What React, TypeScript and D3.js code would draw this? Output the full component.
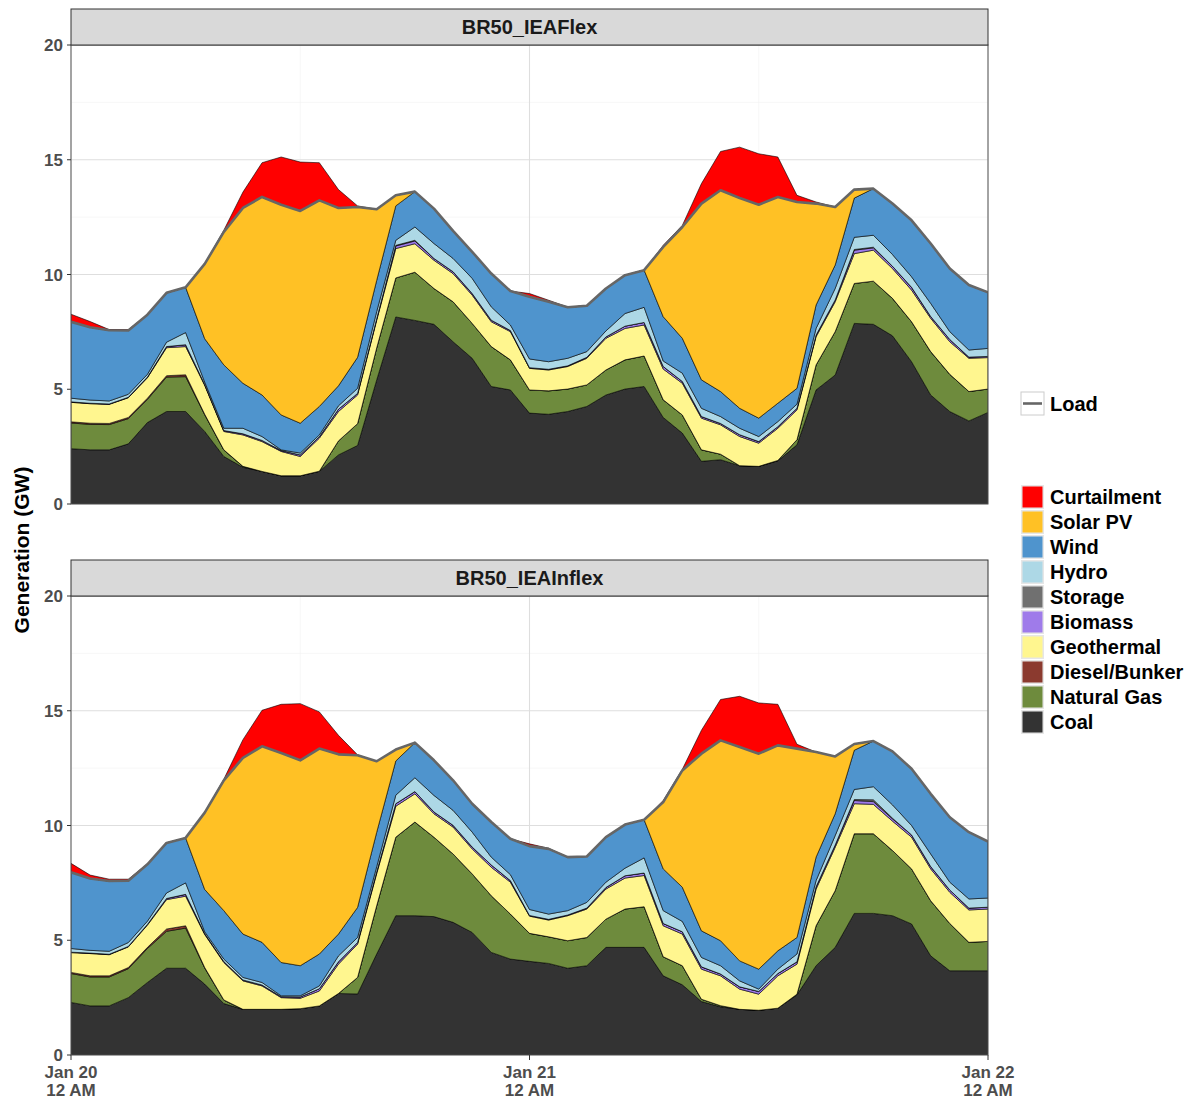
import React from 'react';
import * as d3 from 'd3';

// ---------- DATA (GW, hourly from Jan 20 12 AM to Jan 22 12 AM) ----------
const hourIndex = d3.range(49);
const yTicks = [0, 5, 10, 15, 20];
const yMinor = [2.5, 7.5, 12.5, 17.5];
const panelTitles = ['BR50_IEAFlex', 'BR50_IEAInflex'];
const seriesNames = ['Coal', 'Natural Gas', 'Diesel/Bunker', 'Geothermal', 'Biomass', 'Storage', 'Hydro', 'Wind', 'Solar PV', 'Curtailment'];
const seriesColors = ['#333333', '#6E8B3D', '#8B3A2F', '#FFF68F', '#9F7BEA', '#707070', '#ADD8E6', '#4F94CD', '#FFC125', '#FF0000'];

const z9 = (n: number) => Array(n).fill(0);

// Panel 1: BR50_IEAFlex
const flexCoal = [2.41, 2.36, 2.36, 2.62, 3.55, 4.03, 4.03, 3.16, 2.07, 1.60, 1.42, 1.23, 1.23, 1.42, 2.14, 2.55, 5.40, 8.15, 8.00, 7.83, 7.07, 6.35, 5.12, 4.97, 3.96, 3.91, 4.03, 4.25, 4.75, 5.01, 5.12, 3.77, 3.09, 1.86, 1.93, 1.67, 1.64, 1.88, 2.58, 4.97, 5.62, 7.87, 7.83, 7.33, 6.20, 4.75, 4.03, 3.62, 3.99];
const flexGas = [1.12, 1.11, 1.10, 1.10, 1.01, 1.50, 1.52, 0.73, 0.28, 0.04, 0, 0, 0, 0.01, 0.61, 0.95, 1.40, 1.70, 2.10, 1.56, 1.74, 1.52, 1.74, 1.31, 1.01, 1.02, 0.98, 0.94, 1.09, 1.27, 1.33, 0.77, 0.79, 0.50, 0.24, 0, 0, 0.02, 0.22, 1.09, 1.89, 1.74, 1.88, 1.63, 1.74, 1.89, 1.62, 1.28, 1.02];
const flexDiesel = [0.05, 0.05, 0.05, 0.05, 0.05, 0.06, 0.08, 0.02, 0.01, ...z9(40)];
const flexGeo = [0.85, 0.85, 0.83, 0.86, 0.89, 1.22, 1.23, 1.26, 0.80, 1.37, 1.30, 1.06, 0.84, 1.44, 1.28, 1.25, 1.20, 1.28, 1.24, 1.23, 1.23, 1.23, 1.08, 1.23, 0.94, 0.91, 0.98, 1.16, 1.38, 1.37, 1.35, 1.34, 1.38, 1.38, 1.28, 1.27, 1.01, 1.40, 1.30, 1.23, 1.30, 1.30, 1.35, 1.30, 1.38, 1.45, 1.42, 1.45, 1.37];
const flexBiomass = [0.02, 0.02, 0.02, 0.02, 0.03, 0.05, 0.08, 0.04, 0.04, 0.05, 0.05, 0.04, 0.07, 0.06, 0.10, 0.07, 0.07, 0.11, 0.12, 0.08, 0.08, 0.07, 0.07, 0.05, 0.03, 0.03, 0.03, 0.04, 0.06, 0.10, 0.11, 0.11, 0.08, 0.07, 0.06, 0.08, 0.07, 0.07, 0.07, 0.07, 0.08, 0.15, 0.10, 0.10, 0.12, 0.08, 0.10, 0.05, 0.05];
const flexStorage = [...z9(17), 0.03, 0.03, ...z9(22), 0.03, 0.03, ...z9(6)];
const flexHydro = [0.16, 0.14, 0.13, 0.13, 0.12, 0.19, 0.53, 0.10, 0.10, 0.24, 0.17, 0.03, 0.08, 0.08, 0.15, 0.22, 0.31, 0.22, 0.58, 0.65, 0.58, 0.66, 0.58, 0.24, 0.38, 0.33, 0.33, 0.25, 0.26, 0.55, 0.66, 0.24, 0.36, 0.36, 0.30, 0.28, 0.22, 0.22, 0.18, 0.29, 0.50, 0.53, 0.52, 0.51, 0.46, 0.57, 0.34, 0.31, 0.35];
const flexWind = [3.33, 3.17, 3.08, 2.78, 2.60, 2.15, 1.97, 1.89, 2.76, 1.96, 1.81, 1.52, 1.30, 1.24, 0.87, 1.35, 1.36, 1.50, 1.54, 1.52, 1.20, 1.16, 1.45, 1.48, 2.71, 2.61, 2.22, 2.00, 1.85, 1.67, 1.62, 1.93, 1.52, 1.24, 1.09, 0.87, 0.80, 0.80, 0.69, 1.02, 1.02, 1.71, 2.03, 2.22, 2.46, 2.61, 2.75, 2.83, 2.44];
const flexSolar = [0, 0, 0, 0, 0, 0, 0, 3.26, 5.80, 7.64, 8.63, 9.16, 9.25, 8.98, 7.75, 6.55, 3.10, 0.46, ...z9(13), 3.04, 4.85, 7.68, 8.77, 9.16, 9.30, 8.99, 8.12, 4.42, 2.53, 0.37, ...z9(7)];
const flexCurtail = [0.33, 0.25, 0.03, 0.04, 0, 0, 0, 0, 0.07, 0.69, 1.49, 2.08, 2.13, 1.64, 0.80, 0.05, ...z9(8), 0.14, 0.07, 0.01, 0, 0, 0, 0, 0.07, 0.07, 0.87, 1.69, 2.22, 2.22, 1.74, 0.29, 0.07, ...z9(9)];

// Panel 2: BR50_IEAInflex
const inflexCoal = [2.29, 2.14, 2.14, 2.50, 3.16, 3.78, 3.78, 3.09, 2.24, 1.99, 1.99, 1.99, 2.02, 2.14, 2.68, 2.66, 4.40, 6.07, 6.07, 6.03, 5.78, 5.34, 4.47, 4.18, 4.08, 3.99, 3.78, 3.89, 4.69, 4.69, 4.69, 3.45, 3.06, 2.33, 2.10, 1.99, 1.95, 2.04, 2.62, 3.89, 4.69, 6.17, 6.17, 6.07, 5.71, 4.32, 3.67, 3.67, 3.67];
const inflexGas = [1.26, 1.26, 1.26, 1.26, 1.48, 1.61, 1.75, 0.70, 0.15, 0, 0, 0, 0, 0, 0, 0.72, 2.10, 3.42, 4.08, 3.46, 2.98, 2.55, 2.47, 1.96, 1.22, 1.16, 1.20, 1.23, 1.23, 1.67, 1.77, 0.83, 0.83, 0.10, 0.05, 0, 0, 0, 0.03, 1.74, 2.47, 3.47, 3.47, 2.84, 2.40, 2.40, 2.06, 1.24, 1.28];
const inflexDiesel = [0.05, 0.05, 0.05, 0.05, 0.05, 0.10, 0.10, 0.02, 0.01, ...z9(40)];
const inflexGeo = [0.86, 0.97, 0.92, 0.90, 0.97, 1.28, 1.29, 1.44, 1.63, 1.24, 1.02, 0.51, 0.45, 0.65, 1.28, 1.45, 1.40, 1.35, 1.23, 1.02, 1.17, 1.09, 1.24, 1.39, 0.75, 0.73, 1.09, 1.24, 1.31, 1.35, 1.36, 1.35, 1.38, 1.31, 1.30, 0.88, 0.70, 1.41, 1.31, 1.60, 1.89, 1.31, 1.28, 1.28, 1.38, 1.39, 1.36, 1.41, 1.41];
const inflexBiomass = [0.02, 0.02, 0.02, 0.02, 0.03, 0.05, 0.08, 0.04, 0.04, 0.04, 0.04, 0.04, 0.06, 0.10, 0.10, 0.07, 0.08, 0.11, 0.10, 0.08, 0.08, 0.08, 0.10, 0.07, 0.03, 0.03, 0.03, 0.04, 0.07, 0.10, 0.11, 0.10, 0.10, 0.10, 0.08, 0.10, 0.12, 0.10, 0.10, 0.10, 0.10, 0.14, 0.12, 0.10, 0.10, 0.10, 0.10, 0.08, 0.08];
const inflexStorage = [...z9(41), 0.04, 0.08, 0.03, ...z9(5)];
const inflexHydro = [0.16, 0.12, 0.13, 0.17, 0.14, 0.24, 0.50, 0.08, 0.11, 0.11, 0.11, 0.04, 0.05, 0.12, 0.26, 0.22, 0.22, 0.37, 0.60, 0.72, 0.65, 0.65, 0.34, 0.26, 0.26, 0.23, 0.19, 0.25, 0.23, 0.33, 0.66, 0.56, 0.45, 0.41, 0.36, 0.26, 0.10, 0.19, 0.34, 0.27, 0.41, 0.44, 0.57, 0.58, 0.41, 0.55, 0.34, 0.40, 0.40];
const inflexWind = [3.32, 3.13, 3.06, 2.69, 2.48, 2.18, 1.96, 1.84, 2.11, 1.89, 1.75, 1.45, 1.31, 1.39, 0.95, 1.31, 1.50, 1.49, 1.53, 1.53, 1.31, 1.24, 1.53, 1.56, 2.76, 2.84, 2.33, 2.00, 1.96, 1.90, 1.66, 1.82, 1.49, 1.16, 1.09, 0.87, 0.87, 0.80, 0.72, 1.02, 0.95, 1.71, 1.99, 2.33, 2.47, 2.62, 2.83, 2.91, 2.46];
const inflexSolar = [0, 0, 0, 0, 0, 0, 0, 3.35, 5.68, 7.68, 8.54, 9.13, 8.95, 8.95, 7.83, 6.63, 3.10, 0.50, ...z9(13), 2.91, 5.09, 7.72, 8.73, 9.32, 9.39, 8.95, 8.23, 4.58, 2.50, 0.27, ...z9(7)];
const inflexCurtail = [0.39, 0.15, 0.08, 0.07, 0.02, 0, 0, 0, 0.05, 0.79, 1.57, 2.12, 2.47, 1.60, 0.83, 0.02, ...z9(8), 0.10, 0.03, 0, 0, 0, 0, 0, 0.07, 0.05, 1.02, 1.78, 2.21, 2.21, 1.79, 0.19, ...z9(10)];

const panelSeries = [
  [flexCoal, flexGas, flexDiesel, flexGeo, flexBiomass, flexStorage, flexHydro, flexWind, flexSolar, flexCurtail],
  [inflexCoal, inflexGas, inflexDiesel, inflexGeo, inflexBiomass, inflexStorage, inflexHydro, inflexWind, inflexSolar, inflexCurtail],
];

// ---------- LAYOUT ----------
const W = 1190, H = 1099;
const plotLeft = 71, plotRight = 988;
const panelTops = [45, 596];
const panelH = 459;
const stripH = 36;
const FONT = '"Liberation Sans", Arial, Helvetica, sans-serif';

const t0 = new Date(2030, 0, 20, 0);
const tEnd = new Date(2030, 0, 22, 0);
const times = hourIndex.map((h) => new Date(2030, 0, 20, h));
const x = d3.scaleTime().domain([t0, tEnd]).range([plotLeft, plotRight]);
const xMajor = [new Date(2030, 0, 20), new Date(2030, 0, 21), new Date(2030, 0, 22)];
const xMinor = [new Date(2030, 0, 20, 12), new Date(2030, 0, 21, 12)];
const fmtDay = d3.timeFormat('%b %d');
const fmtHour = d3.timeFormat('%-I %p');

type Row = { t: Date; [k: string]: any };

function Panel({ idx }: { idx: number }) {
  const top = panelTops[idx];
  const y = d3.scaleLinear().domain([0, 20]).range([top + panelH, top]);
  const series = panelSeries[idx];
  const rows: Row[] = times.map((t, i) => {
    const r: Row = { t };
    seriesNames.forEach((k, j) => (r[k] = series[j][i]));
    return r;
  });
  const stacked = d3.stack<Row>().keys(seriesNames)(rows);
  const area = d3
    .area<any>()
    .x((d) => x(d.data.t))
    .y0((d) => y(d[0]))
    .y1((d) => y(d[1]));
  const loadLine = d3
    .line<Row>()
    .x((d) => x(d.t))
    .y((d) => y(d3.sum(seriesNames.slice(0, 9), (k) => d[k])));
  const clipId = `clip${idx}`;
  return (
    <g>
      <defs>
        <clipPath id={clipId}>
          <rect x={plotLeft} y={top} width={plotRight - plotLeft} height={panelH} />
        </clipPath>
      </defs>
      <rect x={plotLeft} y={top} width={plotRight - plotLeft} height={panelH} fill="#fff" />
      {yMinor.map((v) => (
        <line key={'ym' + v} x1={plotLeft} x2={plotRight} y1={y(v)} y2={y(v)} stroke="#F2F2F2" strokeWidth={0.6} />
      ))}
      {xMinor.map((d, i) => (
        <line key={'xm' + i} x1={x(d)} x2={x(d)} y1={top} y2={top + panelH} stroke="#F2F2F2" strokeWidth={0.6} />
      ))}
      {yTicks.map((v) => (
        <line key={'yM' + v} x1={plotLeft} x2={plotRight} y1={y(v)} y2={y(v)} stroke="#DEDEDE" strokeWidth={1.1} />
      ))}
      {xMajor.map((d, i) => (
        <line key={'xM' + i} x1={x(d)} x2={x(d)} y1={top} y2={top + panelH} stroke="#DEDEDE" strokeWidth={1.1} />
      ))}
      <g clipPath={`url(#${clipId})`}>
        {stacked.map((s, j) => (
          <path key={s.key} d={area(s as any) || ''} fill={seriesColors[j]} stroke="#000" strokeWidth={0.6} strokeLinejoin="round" />
        ))}
        <path d={loadLine(rows) || ''} fill="none" stroke="#666666" strokeWidth={2.6} strokeLinejoin="round" />
      </g>
      <rect x={plotLeft} y={top} width={plotRight - plotLeft} height={panelH} fill="none" stroke="#5a5a5a" strokeWidth={1} />
      {/* strip */}
      <rect x={plotLeft} y={top - stripH} width={plotRight - plotLeft} height={stripH} fill="#D9D9D9" stroke="#333" strokeWidth={1} />
      <text x={(plotLeft + plotRight) / 2} y={top - stripH / 2 + 7} textAnchor="middle" fontFamily={FONT} fontWeight="bold" fontSize={20} fill="#1A1A1A">
        {panelTitles[idx]}
      </text>
      {/* y axis */}
      {yTicks.map((v) => (
        <g key={'yt' + v}>
          <line x1={plotLeft - 4} x2={plotLeft} y1={y(v)} y2={y(v)} stroke="#333" strokeWidth={1} />
          <text x={plotLeft - 8} y={y(v) + 6} textAnchor="end" fontFamily={FONT} fontWeight="bold" fontSize={17} fill="#4D4D4D">
            {v}
          </text>
        </g>
      ))}
    </g>
  );
}

function Legend() {
  const keyX = 1021, keyS = 23, textX = 1050;
  const order = seriesNames.map((n, i) => ({ n, c: seriesColors[i] })).reverse();
  return (
    <g fontFamily={FONT} fontWeight="bold" fontSize={20} fill="#000">
      <rect x={keyX} y={392} width={keyS} height={keyS} fill="#fff" stroke="#CCCCCC" strokeWidth={1} />
      <line x1={keyX + 2} x2={keyX + keyS - 2} y1={403.5} y2={403.5} stroke="#666666" strokeWidth={2.6} />
      <text x={textX} y={411}>Load</text>
      {order.map((o, i) => {
        const cy = 497 + i * 25;
        return (
          <g key={o.n}>
            <rect x={keyX} y={cy - 12} width={keyS} height={keyS + 1} fill="#E6E6E6" />
            <rect x={keyX + 1.5} y={cy - 10.5} width={keyS - 3} height={keyS - 2} fill={o.c} />
            <text x={textX} y={cy + 7}>{o.n}</text>
          </g>
        );
      })}
    </g>
  );
}

export default function App() {
  const bottom = panelTops[1] + panelH;
  return (
    <svg width={W} height={H} style={{ position: 'absolute', left: 0, top: 0, background: '#fff' }}>
      <rect width={W} height={H} fill="#fff" />
      <Panel idx={0} />
      <Panel idx={1} />
      {xMajor.map((d, i) => (
        <g key={'xt' + i}>
          <line x1={x(d)} x2={x(d)} y1={bottom} y2={bottom + 5} stroke="#333" strokeWidth={1} />
          <text x={x(d)} y={bottom + 23} textAnchor="middle" fontFamily={FONT} fontWeight="bold" fontSize={17} fill="#4D4D4D">
            {fmtDay(d)}
          </text>
          <text x={x(d)} y={bottom + 40.5} textAnchor="middle" fontFamily={FONT} fontWeight="bold" fontSize={17} fill="#4D4D4D">
            {fmtHour(d)}
          </text>
        </g>
      ))}
      <text
        transform={`translate(29, ${(panelTops[0] + bottom) / 2}) rotate(-90)`}
        textAnchor="middle"
        fontFamily={FONT}
        fontWeight="bold"
        fontSize={21}
        fill="#000"
      >
        Generation (GW)
      </text>
      <Legend />
    </svg>
  );
}
